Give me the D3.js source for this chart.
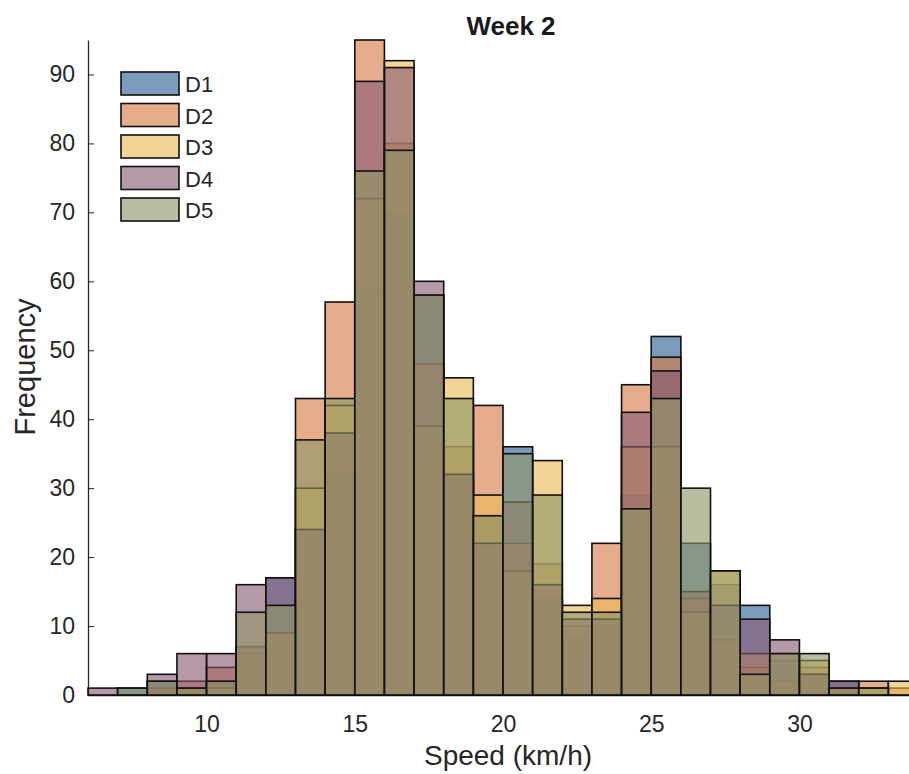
<!DOCTYPE html>
<html lang="en">
<head>
    <meta charset="utf-8">
    <title>Week 2</title>
    <script src="https://cdn.jsdelivr.net/npm/d3@7"></script>
    <style>
        body { margin: 0; background: #fff; }
        svg { display: block; font-family: "Liberation Sans", Arial, sans-serif; }
        .axis path, .axis line { stroke: #262626; }
        .axis text { fill: #262626; font-size: 23px; }
    </style>
</head>
<body>
<svg id="chart"></svg>
<script>
// bin left edges (width 1 km/h)
var binStarts = [6, 7, 8, 9, 10, 11, 12, 13, 14, 15, 16, 17, 18, 19, 20,
                 21, 22, 23, 24, 25, 26, 27, 28, 29, 30, 31, 32, 33];
var seriesNames = ["D1", "D2", "D3", "D4", "D5"];
var d1 = [0, 1, 2, 1, 2, 7, 17, 24, 32, 59, 70, 58, 32, 26, 36, 14, 8, 10, 29, 52, 22, 16, 13, 5, 3, 2, 0, 0];
var d2 = [0, 0, 1, 2, 4, 6, 9, 43, 57, 95, 80, 48, 36, 42, 22, 19, 10, 22, 45, 49, 14, 8, 4, 2, 4, 1, 2, 1];
var d3v = [0, 0, 0, 1, 1, 7, 9, 30, 42, 72, 92, 39, 46, 29, 18, 34, 13, 14, 36, 36, 12, 18, 6, 6, 5, 1, 1, 2];
var d4 = [1, 0, 3, 6, 6, 16, 17, 24, 38, 89, 91, 60, 32, 22, 28, 16, 11, 11, 41, 47, 15, 13, 11, 8, 3, 2, 0, 0];
var d5 = [0, 1, 2, 1, 2, 12, 13, 37, 43, 76, 79, 58, 43, 26, 35, 29, 12, 12, 27, 43, 30, 18, 3, 6, 6, 1, 1, 0];
var xTicks = [10, 15, 20, 25, 30];
var yTicks = [0, 10, 20, 30, 40, 50, 60, 70, 80, 90];

var colors = ["#2a5f94", "#d67a45", "#eab955", "#875a73", "#8f9466"];
var alpha = 0.62;

var width = 909, height = 774;
var plotLeft = 88, plotRight = 918, plotTop = 40, plotBottom = 695;

var svg = d3.select("#chart")
    .attr("width", width)
    .attr("height", height);

var x = d3.scaleLinear().domain([6, 34]).range([plotLeft, plotRight]);
var y = d3.scaleLinear().domain([0, 95]).range([plotBottom, plotTop]);

// axes (drawn under the bars, ticks pointing inward)
svg.append("g")
    .attr("class", "axis")
    .attr("transform", "translate(0," + plotBottom + ")")
    .call(d3.axisBottom(x).tickValues(xTicks).tickSizeInner(-6).tickSizeOuter(0).tickPadding(21))
    .call(function(g) { g.select(".domain").attr("stroke-width", 1.3); });

svg.append("g")
    .attr("class", "axis")
    .attr("transform", "translate(" + plotLeft + ",0)")
    .call(d3.axisLeft(y).tickValues(yTicks).tickSizeInner(-6).tickSizeOuter(0).tickPadding(13))
    .call(function(g) { g.select(".domain").attr("stroke-width", 1.3); });

var all = [d1, d2, d3v, d4, d5];

all.forEach(function(vals, si) {
    var rows = binStarts.map(function(b, i) { return { x0: b, v: vals[i] }; })
        .filter(function(d) { return d.v > 0; });
    svg.append("g")
        .selectAll("rect")
        .data(rows)
        .enter()
        .append("rect")
        .attr("x", function(d) { return x(d.x0); })
        .attr("y", function(d) { return y(d.v); })
        .attr("width", function(d) { return x(d.x0 + 1) - x(d.x0); })
        .attr("height", function(d) { return y(0) - y(d.v); })
        .attr("fill", colors[si])
        .attr("fill-opacity", alpha)
        .attr("stroke", "#111")
        .attr("stroke-width", 1.6);
});

// legend
var legend = svg.append("g").attr("transform", "translate(121,72)");
seriesNames.forEach(function(name, i) {
    var row = legend.append("g").attr("transform", "translate(0," + (i * 31.5) + ")");
    row.append("rect")
        .attr("width", 58)
        .attr("height", 23)
        .attr("fill", colors[i])
        .attr("fill-opacity", alpha)
        .attr("stroke", "#111")
        .attr("stroke-width", 1.6);
    row.append("text")
        .attr("x", 64)
        .attr("y", 20)
        .attr("font-size", 22)
        .attr("fill", "#262626")
        .text(name);
});

// title and labels
svg.append("text")
    .attr("x", 511)
    .attr("y", 35)
    .attr("text-anchor", "middle")
    .attr("font-size", 26)
    .attr("font-weight", "bold")
    .attr("fill", "#1a1a1a")
    .text("Week 2");

svg.append("text")
    .attr("x", 508)
    .attr("y", 765)
    .attr("text-anchor", "middle")
    .attr("font-size", 28)
    .attr("fill", "#262626")
    .text("Speed (km/h)");

svg.append("text")
    .attr("transform", "translate(35,367) rotate(-90)")
    .attr("text-anchor", "middle")
    .attr("font-size", 29)
    .attr("fill", "#262626")
    .text("Frequency");
</script>
</body>
</html>
